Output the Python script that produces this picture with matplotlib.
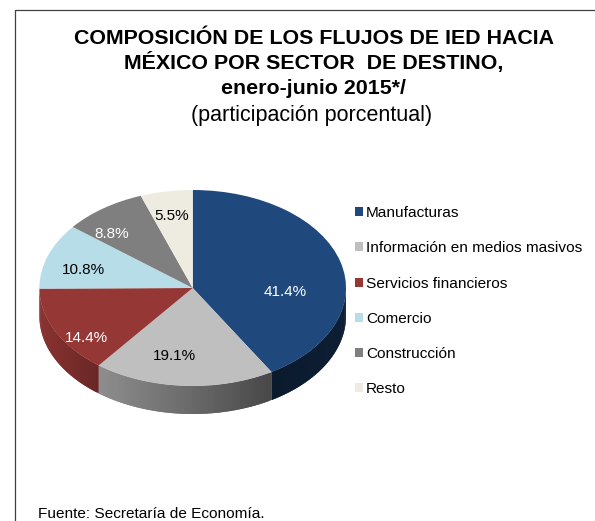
import numpy as np
import matplotlib
matplotlib.use("Agg")
import matplotlib.pyplot as plt
from matplotlib.collections import PolyCollection
from matplotlib.lines import Line2D
from matplotlib.patches import Patch
from matplotlib.colors import to_rgb

categories = ["Manufacturas", "Información en medios masivos", "Servicios financieros",
              "Comercio", "Construcción", "Resto"]
shares = [41.4, 19.1, 14.4, 10.8, 8.8, 5.5]
colors = ["#1F497D", "#BFBFBF", "#953735", "#B7DEE8", "#7F7F7F", "#EEECE1"]
label_colors = ["white", "black", "white", "black", "white", "black"]
title_lines = ["COMPOSICIÓN DE LOS FLUJOS DE IED HACIA",
               "MÉXICO POR SECTOR  DE DESTINO,",
               "enero-junio 2015*/"]
subtitle = "(participación porcentual)"
source = "Fuente: Secretaría de Economía."

W, H = 595, 521
plt.rcParams["font.family"] = ["Liberation Sans", "DejaVu Sans"]
fig = plt.figure(figsize=(W / 100, H / 100), dpi=100, facecolor="white")


def fx(px):
    return px / W


def fy(py):
    return 1 - py / H


# Chart frame (left and top edges are visible)
fig.add_artist(Line2D([fx(15), fx(15), fx(595)], [fy(521), fy(10), fy(10)],
                      color="#404040", lw=0.9))

# Titles
for line, y in zip(title_lines, [38.7, 62.7, 88.7]):
    fig.text(fx(313.5), fy(y), line, ha="center", va="center", fontsize=15.4,
             fontweight="bold", color="black")
fig.text(fx(312), fy(115.7), subtitle, ha="center", va="center", fontsize=15.5, color="black")
fig.text(fx(38), fy(514), source, ha="left", va="center", fontsize=11.1, color="black")

# Pie top ellipse occupies this pixel box
cx, cy, rx, ry, depth = 192.7, 288.0, 153.3, 98.0, 28.0
ax = fig.add_axes([fx(cx - rx), fy(cy + ry), 2 * rx / W, 2 * ry / H])
wedges, _, autotexts = ax.pie(shares, colors=colors, startangle=90, counterclock=False,
                              radius=1, autopct="%.1f%%", textprops={"fontsize": 11})
ax.set_aspect("auto")
ax.set_xlim(-1, 1)
ax.set_ylim(-1, 1)
ax.axis("off")
for w in wedges:
    w.set_zorder(3)
    w.set_linewidth(0)

# Percent labels, placed in pixels of the image
label_px = [(285, 291.5), (174.7, 356.5), (86, 338.5), (83.7, 269.5), (112, 234.5), (172, 216.5)]
for t, (px, py), c in zip(autotexts, label_px, label_colors):
    t.set_position(((px - cx) / rx, (cy - py) / ry))
    t.set_color(c)
    t.set_zorder(5)

# Side wall, derived from the same shares
d = depth / ry
# brightness of the wall: (x position in pie units, factor), per slice
shade = {
    0: ([0.51, 1.0], [0.36, 0.42]),
    1: ([-0.6, 0.0, 0.5], [0.74, 0.55, 0.38]),
    2: ([-1.0, -0.6], [0.92, 0.70]),
}
edges = 90 - np.cumsum([0] + shares) * 3.6
polys, fcs = [], []
for i, (a, b) in enumerate(zip(edges[:-1], edges[1:])):
    if i not in shade:
        continue
    ang = np.radians(np.linspace(a, b, int(abs(a - b)) + 2))
    ang = ang[np.sin(ang) <= 0.0005]
    xs, ys = np.cos(ang), np.sin(ang)
    base = np.array(to_rgb(colors[i]))
    for j in range(len(ang) - 1):
        k = min(j + 2, len(ang) - 1)  # overlap the next strip to hide seams
        polys.append(list(zip(xs[j:k + 1], ys[j:k + 1]))
                     + list(zip(xs[j:k + 1][::-1], ys[j:k + 1][::-1] - d)))
        f = np.interp((xs[j] + xs[j + 1]) / 2, shade[i][0], shade[i][1])
        fcs.append(tuple(base * f))
wall = PolyCollection(polys, facecolors=fcs, edgecolors="none", linewidths=0,
                      zorder=2, clip_on=False)
ax.add_collection(wall)

# Legend
handles = [Patch(facecolor=c, edgecolor="none") for c in colors]
fig.legend(handles, categories, loc="upper left",
           bbox_to_anchor=(fx(355), fy(206)), borderaxespad=0, borderpad=0,
           frameon=False, fontsize=11.1, handlelength=0.52, handleheight=0.52,
           handletextpad=0.2, labelspacing=1.38)

fig.savefig("out.png", dpi=100)
